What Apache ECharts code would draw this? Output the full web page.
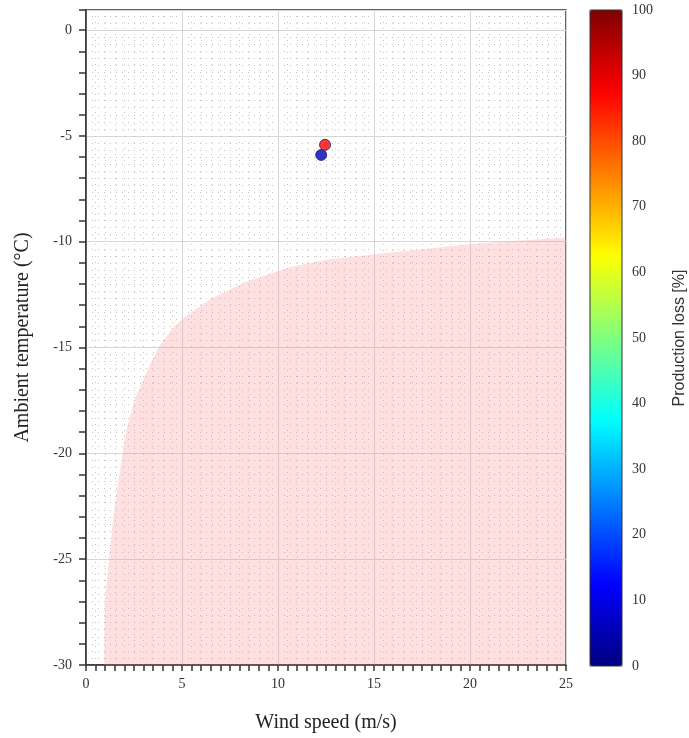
<!DOCTYPE html>
<html>
<head>
<meta charset="utf-8">
<script src="https://cdn.jsdelivr.net/npm/echarts@6/dist/echarts.min.js"></script>
<style>
  html, body { margin: 0; padding: 0; background: #fff; }
  #chart { width: 689px; height: 738px; }
</style>
</head>
<body>
<div id="chart"></div>
<script>
// icing loss boundary (wind speed, temperature)
const boundaryWind = [0.95, 0.97, 1.2, 1.41, 1.72, 2.1, 2.6, 3.13, 3.8, 4.5, 5.21, 6.5, 8.3, 10.6, 12.5, 14.9, 17.5, 20.2, 22.5, 25];
const boundaryTemp = [-30, -27.2, -25.0, -23.1, -21.1, -18.9, -17.3, -16.2, -14.95, -14.1, -13.5, -12.7, -11.9, -11.2, -10.85, -10.6, -10.35, -10.1, -9.95, -9.8];

// measured points: wind speed, temperature, production loss
const pointWind = [12.25, 12.45];
const pointTemp = [-5.9, -5.42];
const pointLoss = [5, 87];

const jet = ["#00007f", "#0000ff", "#007fff", "#00ffff", "#7fff7f", "#ffff00", "#ff7f00", "#ff0000", "#7f0000"];

const serif = "Liberation Serif";
const isMajor = (v) => Math.abs(v / 5 - Math.round(v / 5)) < 1e-6;
const dotted = { color: "#c4c4c4", type: [1, 5], width: 1 };

const chart = echarts.init(document.getElementById("chart"));

const option = {
  animation: false,
  grid: [
    { left: 86, top: 10, width: 480, height: 656, show: true, borderColor: "#333", borderWidth: 1.5, backgroundColor: "transparent" },
    { left: 590, top: 10, width: 32, height: 656, show: true, borderColor: "#333", borderWidth: 1, backgroundColor: "transparent", z: 10 },
  ],
  xAxis: [
    {
      type: "value", gridIndex: 0, min: 0, max: 25, interval: 0.5,
      name: "Wind speed (m/s)", nameLocation: "middle", nameGap: 48,
      nameTextStyle: { fontFamily: serif, fontSize: 20, color: "#222" },
      axisLine: { onZero: false, lineStyle: { color: "#333", width: 1.5 } },
      axisTick: { length: 6, lineStyle: { color: "#333", width: 1.5 } },
      axisLabel: { fontFamily: serif, fontSize: 14, color: "#333", margin: 12, formatter: (v) => (isMajor(v) ? String(v) : "") },
      splitLine: { show: true, lineStyle: dotted },
    },
    {
      type: "value", gridIndex: 0, min: 0, max: 25, interval: 5, position: "bottom",
      axisLine: { show: false, onZero: false }, axisTick: { show: false }, axisLabel: { show: false },
      splitLine: { show: true, lineStyle: { color: "#d6d6d6", width: 1 } },
    },
    {
      type: "category", gridIndex: 1, data: [""], show: false,
    },
  ],
  yAxis: [
    {
      type: "value", gridIndex: 0, min: -30, max: 0.95, interval: 1,
      name: "Ambient temperature (\u00b0C)", nameLocation: "middle", nameGap: 53, nameRotate: 90,
      nameTextStyle: { fontFamily: serif, fontSize: 20, color: "#222" },
      axisLine: { onZero: false, lineStyle: { color: "#333", width: 1.5 } },
      axisTick: { length: 7, lineStyle: { color: "#333", width: 1.5 } },
      axisLabel: { fontFamily: serif, fontSize: 14, color: "#333", margin: 14, formatter: (v) => (isMajor(v) ? String(v) : "") },
      splitLine: { show: true, lineStyle: dotted },
      minorSplitLine: { show: true, lineStyle: dotted },
      minorTick: { show: false, splitNumber: 3 },
    },
    {
      type: "value", gridIndex: 0, min: -30, max: 0.95, interval: 5, position: "left",
      axisLine: { show: false, onZero: false }, axisTick: { show: false }, axisLabel: { show: false },
      splitLine: { show: true, lineStyle: { color: "#d6d6d6", width: 1 } },
    },
    {
      type: "value", gridIndex: 1, min: 0, max: 100, interval: 10, position: "right",
      name: "Production loss [%]", nameLocation: "middle", nameGap: 50, nameRotate: 90,
      nameTextStyle: { fontFamily: "Liberation Sans", fontSize: 16, color: "#333" },
      axisLine: { show: false },
      axisTick: { inside: true, length: 4, lineStyle: { color: "#333" } },
      axisLabel: { fontFamily: serif, fontSize: 14, color: "#333", margin: 10 },
      splitLine: { show: false },
    },
  ],
  visualMap: {
    type: "continuous",
    min: 0, max: 100,
    seriesIndex: 1,
    dimension: 2,
    orient: "vertical",
    left: 590, top: 10,
    itemWidth: 32, itemHeight: 656,
    padding: 0,
    calculable: false,
    text: null,
    showLabel: false,
    inRange: { color: jet },
  },
  series: [
    {
      type: "line",
      xAxisIndex: 0, yAxisIndex: 0,
      data: boundaryWind.map((w, i) => [w, boundaryTemp[i]]),
      smooth: false,
      symbol: "none",
      lineStyle: { width: 0 },
      areaStyle: { origin: "start", color: "rgba(255, 140, 140, 0.38)" },
      silent: true,
      z: 1,
    },
    {
      type: "scatter",
      xAxisIndex: 0, yAxisIndex: 0,
      data: pointWind.map((w, i) => [w, pointTemp[i], pointLoss[i]]),
      symbolSize: 11,
      itemStyle: { borderColor: "#1c1c7a", borderWidth: 1 },
      z: 5,
    },
  ],
};

chart.setOption(option);
</script>
</body>
</html>
